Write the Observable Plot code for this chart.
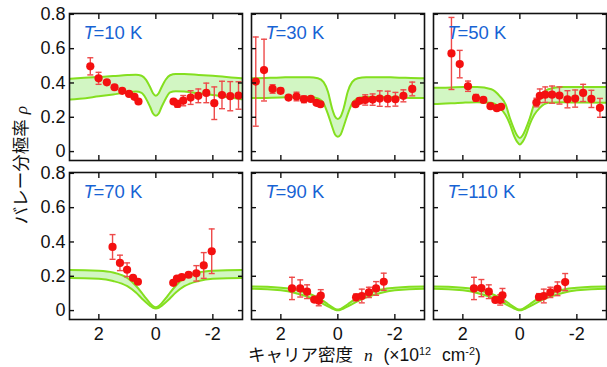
<!DOCTYPE html>
<html><head><meta charset="utf-8">
<script src="https://cdn.jsdelivr.net/npm/d3@7"></script>
<script src="https://cdn.jsdelivr.net/npm/@observablehq/plot@0.6"></script>
<style>
body{margin:0;background:#fff;}
#wrap{position:relative;width:607px;height:367px;overflow:hidden;font-family:"Liberation Sans",Arial,"Noto Sans CJK JP",sans-serif;color:#111;}
#xlab{position:absolute;left:248px;top:347px;font-size:17.5px;line-height:1;white-space:nowrap;word-spacing:6px;}
#ylab{position:absolute;left:22px;top:165px;transform:translate(-50%,-50%) rotate(-90deg);font-size:17.5px;white-space:nowrap;line-height:1;}
sup{font-size:0.62em;vertical-align:0;position:relative;top:-0.55em;}
.m{font-family:"Liberation Serif","Times New Roman",serif;font-style:italic;}
</style></head>
<body><div id="wrap"><div id="chart"></div>
<div id="xlab">キャリア密度 <span class="m">n</span> (×10<sup>12</sup> cm<sup>-2</sup>)</div>
<div id="ylab">バレー分極率 <span class="m">ρ</span></div></div>
<script>
const temps = [10, 30, 50, 70, 90, 110];
const xTicks = [2, 0, -2];
const yTicks = [0, 0.2, 0.4, 0.6, 0.8];

// measured points: carrier density n, polarization rho, error
const n10 = [2.30, 2.01, 1.72, 1.45, 1.18, 0.94, 0.75, 0.61, -0.62, -0.76, -0.96, -1.22, -1.49, -1.77, -2.05, -2.32, -2.61, -2.90];
const rho10 = [0.497, 0.427, 0.404, 0.375, 0.354, 0.336, 0.319, 0.292, 0.292, 0.278, 0.297, 0.315, 0.325, 0.342, 0.282, 0.330, 0.323, 0.327];
const err10 = [0.05, 0.035, 0, 0, 0, 0, 0, 0, 0, 0.02, 0.03, 0.04, 0.04, 0.057, 0.095, 0.08, 0.085, 0.08];

const n30 = [2.88, 2.59, 2.29, 2.01, 1.73, 1.45, 1.19, 0.95, 0.75, 0.61, -0.62, -0.76, -0.96, -1.22, -1.47, -1.75, -2.02, -2.30, -2.61];
const rho30 = [0.408, 0.475, 0.365, 0.354, 0.315, 0.321, 0.305, 0.307, 0.284, 0.276, 0.276, 0.296, 0.301, 0.303, 0.309, 0.307, 0.305, 0.325, 0.365];
const err30 = [0.26, 0.18, 0.025, 0.015, 0, 0.025, 0.02, 0, 0, 0, 0, 0.015, 0.03, 0.033, 0.045, 0.045, 0.04, 0.035, 0.04];

const n50 = [2.40, 2.11, 1.82, 1.54, 1.28, 1.03, 0.81, 0.66, -0.58, -0.70, -0.89, -1.13, -1.39, -1.67, -1.94, -2.22, -2.51, -2.81];
const rho50 = [0.572, 0.510, 0.381, 0.313, 0.301, 0.265, 0.253, 0.261, 0.286, 0.325, 0.332, 0.332, 0.327, 0.305, 0.309, 0.342, 0.307, 0.255];
const err50 = [0.21, 0.08, 0.03, 0.02, 0, 0, 0, 0.01, 0.025, 0.04, 0.045, 0.05, 0.05, 0.05, 0.05, 0.05, 0.05, 0.055];

const n70 = [1.52, 1.26, 1.01, 0.80, 0.63, -0.61, -0.74, -0.91, -1.15, -1.42, -1.68, -1.96];
const rho70 = [0.371, 0.278, 0.238, 0.191, 0.168, 0.162, 0.186, 0.195, 0.209, 0.217, 0.263, 0.346];
const err70 = [0.072, 0.045, 0.04, 0, 0, 0, 0, 0, 0, 0.045, 0.075, 0.13];

const n90 = [1.61, 1.32, 1.08, 0.83, 0.67, 0.60, -0.64, -0.84, -1.09, -1.34, -1.61];
const rho90 = [0.129, 0.129, 0.110, 0.064, 0.058, 0.087, 0.077, 0.085, 0.106, 0.129, 0.168];
const err90 = [0.065, 0.05, 0.04, 0, 0.03, 0.035, 0.02, 0.04, 0.03, 0.04, 0.05];

const n110 = [1.61, 1.35, 1.09, 0.86, 0.69, 0.61, -0.67, -0.84, -1.07, -1.32, -1.59];
const rho110 = [0.129, 0.131, 0.110, 0.062, 0.062, 0.089, 0.079, 0.085, 0.106, 0.127, 0.166];
const err110 = [0.065, 0.05, 0.04, 0, 0.03, 0.04, 0.02, 0.04, 0.03, 0.04, 0.05];

// theory band: sampled n and upper / lower bounds
const bandN = [3.1, 3, 2, 1.5, 1, 0.7, 0.5, 0.35, 0.2, 0.1, 0, -0.1, -0.2, -0.35, -0.5, -0.7, -1, -1.5, -2, -3, -3.1];
const hi10 = [0.424, 0.425, 0.435, 0.44, 0.446, 0.448, 0.442, 0.42, 0.375, 0.34, 0.325, 0.34, 0.375, 0.42, 0.445, 0.452, 0.452, 0.447, 0.442, 0.428, 0.427];
const lo10 = [0.302, 0.303, 0.322, 0.333, 0.345, 0.35, 0.342, 0.31, 0.26, 0.222, 0.209, 0.222, 0.26, 0.31, 0.345, 0.352, 0.35, 0.34, 0.33, 0.305, 0.303];
const hi30 = [0.427, 0.427, 0.432, 0.434, 0.434, 0.428, 0.405, 0.35, 0.25, 0.205, 0.19, 0.205, 0.25, 0.35, 0.405, 0.428, 0.434, 0.434, 0.432, 0.427, 0.427];
const lo30 = [0.312, 0.312, 0.316, 0.318, 0.318, 0.31, 0.28, 0.22, 0.145, 0.1, 0.087, 0.1, 0.145, 0.22, 0.28, 0.31, 0.318, 0.318, 0.316, 0.312, 0.312];
const hi50 = [0.372, 0.372, 0.376, 0.377, 0.363, 0.322, 0.275, 0.195, 0.13, 0.095, 0.079, 0.095, 0.13, 0.195, 0.275, 0.322, 0.363, 0.377, 0.377, 0.377, 0.377];
const lo50 = [0.277, 0.277, 0.285, 0.287, 0.284, 0.255, 0.213, 0.16, 0.09, 0.058, 0.042, 0.058, 0.09, 0.16, 0.213, 0.255, 0.284, 0.287, 0.286, 0.285, 0.285];
const hi70 = [0.236, 0.236, 0.232, 0.222, 0.19, 0.145, 0.105, 0.072, 0.042, 0.026, 0.02, 0.026, 0.042, 0.072, 0.105, 0.145, 0.19, 0.222, 0.232, 0.236, 0.236];
const lo70 = [0.19, 0.19, 0.185, 0.172, 0.142, 0.105, 0.072, 0.048, 0.027, 0.016, 0.012, 0.016, 0.027, 0.048, 0.072, 0.105, 0.142, 0.172, 0.185, 0.19, 0.19];
const hi90 = [0.14, 0.14, 0.133, 0.122, 0.098, 0.075, 0.055, 0.037, 0.02, 0.01, 0.006, 0.01, 0.02, 0.037, 0.055, 0.075, 0.098, 0.122, 0.133, 0.14, 0.14];
const lo90 = [0.127, 0.127, 0.118, 0.103, 0.077, 0.055, 0.038, 0.024, 0.012, 0.005, 0.002, 0.005, 0.012, 0.024, 0.038, 0.055, 0.077, 0.103, 0.118, 0.127, 0.127];
const hi110 = [0.14, 0.14, 0.133, 0.122, 0.098, 0.075, 0.055, 0.037, 0.02, 0.01, 0.006, 0.01, 0.02, 0.037, 0.055, 0.075, 0.098, 0.122, 0.133, 0.14, 0.14];
const lo110 = [0.127, 0.127, 0.118, 0.103, 0.077, 0.055, 0.038, 0.024, 0.012, 0.005, 0.002, 0.005, 0.012, 0.024, 0.038, 0.055, 0.077, 0.103, 0.118, 0.127, 0.127];

const pointSets = {10: [n10, rho10, err10], 30: [n30, rho30, err30], 50: [n50, rho50, err50], 70: [n70, rho70, err70], 90: [n90, rho90, err90], 110: [n110, rho110, err110]};
const bandSets = {10: [hi10, lo10], 30: [hi30, lo30], 50: [hi50, lo50], 70: [hi70, lo70], 90: [hi90, lo90], 110: [hi110, lo110]};

const pts = [], bands = [], titles = [];
temps.forEach((T, i) => {
  const col = i % 3, row = Math.floor(i / 3);
  const [n, r, e] = pointSets[T];
  n.forEach((x, j) => pts.push({T, col, row, n: x, rho: r[j], err: e[j]}));
  const [hi, lo] = bandSets[T];
  bandN.forEach((x, j) => bands.push({T, col, row, n: x, hi: hi[j], lo: lo[j]}));
  titles.push({T, col, row, label: `=${T} K`});
});
const errPts = pts.filter(d => d.err > 0);

const capSym = {draw(ctx, size) { const r = Math.sqrt(size / Math.PI); ctx.moveTo(-r, 0); ctx.lineTo(r, 0); }};
const F = {fx: "col", fy: "row"};
const red = "#f41010", errRed = "#ee4a4a", green = "#84df1f", bandFill = "#d2f6c3", blue = "#1763d4";

const chart = Plot.plot({
  width: 607, height: 367,
  marginLeft: 69, marginRight: 1, marginTop: 13, marginBottom: 48,
  style: {fontFamily: '"Liberation Sans", Arial, sans-serif', fontSize: "18px", background: "white", color: "#111"},
  x: {domain: [3.03, -3.04]},
  y: {domain: [-0.052, 0.805]},
  fx: {axis: null, paddingInner: 0.05, paddingOuter: 0},
  fy: {axis: null, paddingInner: 0.0755, paddingOuter: 0},
  marks: [
    Plot.areaY(bands, {...F, x: "n", y1: "lo", y2: "hi", fill: bandFill, curve: "monotone-x", clip: true}),
    Plot.lineY(bands, {...F, x: "n", y: "hi", stroke: green, strokeWidth: 2, curve: "monotone-x", clip: true}),
    Plot.lineY(bands, {...F, x: "n", y: "lo", stroke: green, strokeWidth: 2, curve: "monotone-x", clip: true}),
    Plot.ruleX(errPts, {...F, x: "n", y1: d => d.rho - d.err, y2: d => d.rho + d.err, stroke: errRed, strokeWidth: 1.4}),
    Plot.dot(errPts, {...F, x: "n", y: d => d.rho + d.err, symbol: capSym, r: 3, stroke: errRed, strokeWidth: 1.4, fill: "none"}),
    Plot.dot(errPts, {...F, x: "n", y: d => d.rho - d.err, symbol: capSym, r: 3, stroke: errRed, strokeWidth: 1.4, fill: "none"}),
    Plot.dot(pts, {...F, x: "n", y: "rho", r: 4.1, fill: red, stroke: "none"}),
    Plot.text(titles, {...F, text: () => "T", frameAnchor: "top-left", dx: 14, dy: 20, textAnchor: "start", lineAnchor: "middle", fontStyle: "italic", fontSize: 18.5, fill: blue}),
    Plot.text(titles, {...F, text: "label", frameAnchor: "top-left", dx: 24, dy: 20, textAnchor: "start", lineAnchor: "middle", fontSize: 18.5, fill: blue}),
    Plot.frame({stroke: "#111", strokeWidth: 1.6}),
    Plot.axisX({anchor: "bottom", ticks: xTicks, tickSize: -5, fill: "none", label: null, facetAnchor: null, strokeWidth: 1.4}),
    Plot.axisX({anchor: "top", ticks: xTicks, tickSize: -5, fill: "none", label: null, facetAnchor: null, strokeWidth: 1.4}),
    Plot.axisY({anchor: "left", ticks: yTicks, tickSize: -5, fill: "none", label: null, facetAnchor: null, strokeWidth: 1.4}),
    Plot.axisY({anchor: "right", ticks: yTicks, tickSize: -5, fill: "none", label: null, facetAnchor: null, strokeWidth: 1.4}),
    Plot.axisX({anchor: "bottom", ticks: xTicks, tickSize: 0, tickPadding: 8, tickFormat: d => String(d), label: null, fontSize: 18}),
    Plot.axisY({anchor: "left", ticks: yTicks, tickSize: 0, tickPadding: 4, tickFormat: d => String(d), label: null, fontSize: 18})
  ]
});
document.getElementById("chart").appendChild(chart);
</script>
</body></html>
